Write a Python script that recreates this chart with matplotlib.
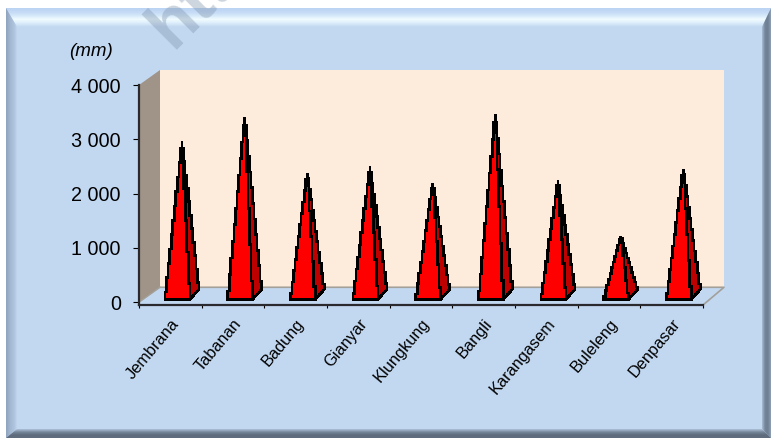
import matplotlib
matplotlib.use("Agg")
import numpy as np
import matplotlib.pyplot as plt
from matplotlib.colors import LinearSegmentedColormap
from matplotlib.patches import Polygon, Rectangle

plt.rcParams['font.family'] = ['Liberation Sans', 'DejaVu Sans']

# data
regencies = ["Jembrana", "Tabanan", "Badung", "Gianyar", "Klungkung",
             "Bangli", "Karangasem", "Buleleng", "Denpasar"]
rainfall = [2818, 3260, 2228, 2357, 2044, 3315, 2099, 1068, 2302]
y_ticks = [0, 1000, 2000, 3000, 4000]
y_labels = ["0", "1 000", "2 000", "3 000", "4 000"]

W, H = 771, 438
fig = plt.figure(figsize=(W / 100, H / 100), dpi=100, facecolor="white")

# --- bevelled panel behind the chart, in pixel coordinates
bg = fig.add_axes([0, 0, 1, 1])
bg.set_xlim(0, W)
bg.set_ylim(H, 0)
bg.axis("off")

MAIN = "#C2D8F1"
L, R, T, B = 6, 771, 8, 438
bg.add_patch(Rectangle((L, T), R - L, B - T, fc=MAIN, ec="none", zorder=1))


def bevel(pts, extent, colors, horizontal):
    cmap = LinearSegmentedColormap.from_list("b", colors)
    grad = np.linspace(0, 1, 64)
    grad = grad[None, :] if horizontal else grad[:, None]
    im = bg.imshow(grad, extent=extent, cmap=cmap, aspect="auto", zorder=2)
    im.set_clip_path(Polygon(pts, transform=bg.transData))


bevel([(L, T), (R, T), (R - 9, T + 19), (L + 11, T + 19)], (L, R, T + 19, T),
      ["#BCD4F3", "#C4DAF6", "#D6E9FA", "#F0FCFF", "#DCEDFB", MAIN], False)
bevel([(L, T), (L + 11, T + 19), (L + 11, B - 9), (L, B)], (L, L + 13, B, T),
      ["#8FA3BD", "#A3B8D2", "#B0C6E0", "#D0E3FA"], True)
bevel([(R, T), (R - 9, T + 19), (R - 9, B - 9), (R, B)], (R - 9, R, B, T),
      ["#A9BDD4", "#73859A", "#6E7F93", "#8FA0B6"], True)
bevel([(L, B), (L + 11, B - 9), (R - 9, B - 9), (R, B)], (L, R, B, B - 9),
      ["#AFC2D8", "#76879A", "#5D6B7C", "#5F6D7E"], False)
bg.set_xlim(0, W)
bg.set_ylim(H, 0)

# faint watermark running off the top of the picture
bg.text(172, 50, "htt", rotation=45, rotation_mode="anchor", fontsize=49, fontweight="bold",
        color="#8195AE", alpha=0.4, ha="left", va="baseline", zorder=3, clip_on=True)

# --- chart axes: the plot box is the front plane of the 3D box
x0, x1, y_top, y_bot = 139, 703, 85, 305
ax = fig.add_axes([x0 / W, 1 - y_bot / H, (x1 - x0) / W, (y_bot - y_top) / H])
ax.patch.set_alpha(0)
ax.set_xlim(0, len(regencies))
ax.set_ylim(-50, 4000)

px_x = len(regencies) / (x1 - x0)     # data units per pixel
px_y = 4050 / (y_bot - y_top)
wall_dx, wall_dy = 21 * px_x, 15 * px_y

# walls and floor
n = len(regencies)
ax.add_patch(Polygon([(wall_dx, 4000 + wall_dy), (n + wall_dx, 4000 + wall_dy),
                      (n + wall_dx, wall_dy), (wall_dx, wall_dy)],
                     fc="#FDEBDC", ec="none", clip_on=False, zorder=1))
ax.add_patch(Polygon([(0, 0), (wall_dx, wall_dy), (wall_dx, 4000 + wall_dy), (0, 4000)],
                     fc="#A09488", ec="none", clip_on=False, zorder=1))
ax.plot([wall_dx, n + wall_dx, n], [wall_dy, wall_dy, -50], color="#A3A09A", lw=1.2,
        clip_on=False, zorder=1.5)
ax.plot([0, wall_dx], [0, wall_dy], color="#A3A09A", lw=1.0, clip_on=False, zorder=1.5)


def stairs(p, q):
    # the pyramid edges in the original are rendered in small steps, one px or so sideways
    k = max(int(round(abs(q[0] - p[0]) / (1.5 * px_x))), 1)
    xs = np.linspace(p[0], q[0], k + 1)
    ys = np.linspace(p[1], q[1], k + 1)
    mids = (ys[:-1] + ys[1:]) / 2
    pts = [(p[0], p[1])]
    for j in range(k):
        pts += [(xs[j], mids[j]), (xs[j + 1], mids[j])]
    pts.append((q[0], q[1]))
    return pts


# pyramids: front face plus the visible right face
base_l, base_r = 26 * px_x, 51 * px_x
depth_x, depth_y = 9 * px_x, 10 * px_y
base_y = 55
for i, v in enumerate(rainfall):
    fl, fr = i + base_l, i + base_r
    apex = ((fl + fr + depth_x) / 2, v + base_y + depth_y / 2)
    side_pts = [(fr, base_y)] + stairs((fr + depth_x, base_y + depth_y), apex) \
        + stairs(apex, (fr, base_y))[1:]
    ax.add_patch(Polygon(side_pts, fc="#BF0000", ec="black", lw=1.2, antialiased=False,
                         snap=False, clip_on=False, zorder=3))
    front_pts = stairs((fl, base_y), apex) + stairs(apex, (fr, base_y))[1:]
    ax.add_patch(Polygon(front_pts, fc="#FF0000", ec="black", lw=1.2, antialiased=False,
                         snap=False, clip_on=False, zorder=4))

for s in ["top", "right"]:
    ax.spines[s].set_visible(False)
for s in ["left", "bottom"]:
    ax.spines[s].set_linewidth(1.6)
    ax.spines[s].set_color("#2A2A2E")
    ax.spines[s].set_zorder(5)

ax.set_yticks(y_ticks)
ax.set_yticklabels(y_labels, fontsize=14.2, color="black")
ax.tick_params(axis="y", length=4, width=0.8, pad=9)
ax.set_xticks(range(n + 1))
ax.set_xticklabels([])
ax.tick_params(axis="x", which="major", length=2.5, width=0.8)
ax.set_xticks([i + 0.5 for i in range(n)], minor=True)
ax.set_xticklabels(regencies, minor=True, rotation=50, ha="right", va="top",
                   rotation_mode="anchor", fontsize=11.8, color="black")
ax.tick_params(axis="x", which="minor", length=0, pad=8)

ax.text(91, 52, "(mm)", transform=bg.transData, fontsize=13.5, style="italic",
        ha="center", va="center", color="black")

fig.savefig("out.png", dpi=100)
